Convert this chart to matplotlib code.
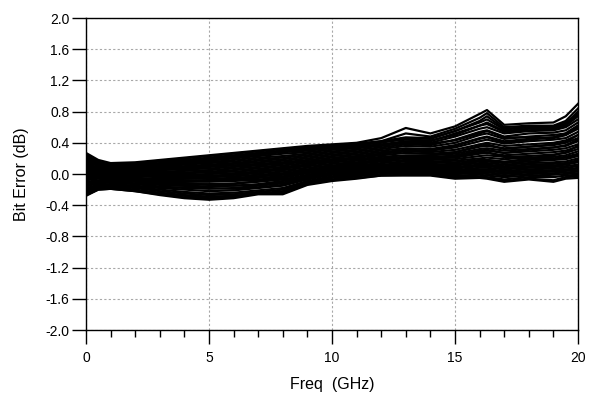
import matplotlib
matplotlib.use("Agg")
import matplotlib.pyplot as plt
from matplotlib.ticker import MultipleLocator

freq = [0, 0.5, 1, 2, 3, 4, 5, 6, 7, 8, 9, 10, 11, 12, 13, 14, 15, 16, 16.3, 17, 18, 19, 19.5, 20]

curves = [
    [0.27, 0.18, 0.14, 0.15, 0.18, 0.21, 0.24, 0.27, 0.30, 0.33, 0.36, 0.38, 0.40, 0.46, 0.59, 0.52, 0.61, 0.77, 0.82, 0.63, 0.65, 0.66, 0.74, 0.90],
    [0.24, 0.16, 0.12, 0.14, 0.17, 0.20, 0.23, 0.26, 0.29, 0.32, 0.34, 0.37, 0.39, 0.42, 0.52, 0.48, 0.58, 0.72, 0.78, 0.60, 0.62, 0.62, 0.68, 0.84],
    [0.22, 0.14, 0.11, 0.13, 0.16, 0.18, 0.21, 0.24, 0.27, 0.30, 0.32, 0.35, 0.37, 0.40, 0.46, 0.45, 0.55, 0.68, 0.74, 0.58, 0.60, 0.60, 0.64, 0.80],
    [0.20, 0.12, 0.10, 0.12, 0.14, 0.17, 0.19, 0.22, 0.25, 0.28, 0.30, 0.33, 0.35, 0.38, 0.42, 0.42, 0.52, 0.62, 0.66, 0.55, 0.58, 0.58, 0.62, 0.74],
    [0.18, 0.11, 0.09, 0.10, 0.12, 0.15, 0.17, 0.20, 0.23, 0.26, 0.28, 0.31, 0.33, 0.36, 0.40, 0.40, 0.48, 0.58, 0.60, 0.52, 0.55, 0.56, 0.60, 0.70],
    [0.16, 0.10, 0.08, 0.09, 0.11, 0.13, 0.15, 0.18, 0.21, 0.23, 0.26, 0.29, 0.31, 0.34, 0.38, 0.37, 0.44, 0.54, 0.56, 0.48, 0.52, 0.53, 0.56, 0.66],
    [0.14, 0.08, 0.07, 0.08, 0.10, 0.12, 0.14, 0.16, 0.19, 0.21, 0.24, 0.27, 0.29, 0.32, 0.36, 0.35, 0.40, 0.50, 0.52, 0.45, 0.48, 0.50, 0.52, 0.62],
    [0.12, 0.07, 0.06, 0.07, 0.08, 0.10, 0.12, 0.14, 0.17, 0.19, 0.22, 0.25, 0.27, 0.30, 0.33, 0.32, 0.37, 0.46, 0.48, 0.42, 0.45, 0.47, 0.50, 0.58],
    [0.10, 0.06, 0.05, 0.06, 0.07, 0.09, 0.11, 0.13, 0.15, 0.17, 0.20, 0.23, 0.25, 0.28, 0.31, 0.30, 0.34, 0.42, 0.44, 0.39, 0.42, 0.44, 0.46, 0.54],
    [0.08, 0.05, 0.04, 0.05, 0.06, 0.07, 0.09, 0.11, 0.13, 0.15, 0.18, 0.21, 0.23, 0.26, 0.29, 0.28, 0.31, 0.38, 0.40, 0.36, 0.38, 0.40, 0.43, 0.50],
    [0.06, 0.04, 0.03, 0.04, 0.05, 0.06, 0.07, 0.09, 0.11, 0.13, 0.16, 0.19, 0.21, 0.24, 0.27, 0.26, 0.28, 0.35, 0.36, 0.33, 0.35, 0.37, 0.40, 0.46],
    [0.05, 0.03, 0.02, 0.02, 0.03, 0.04, 0.05, 0.07, 0.09, 0.11, 0.14, 0.17, 0.19, 0.22, 0.24, 0.24, 0.26, 0.32, 0.33, 0.30, 0.32, 0.34, 0.36, 0.42],
    [0.03, 0.02, 0.01, 0.01, 0.02, 0.02, 0.03, 0.05, 0.07, 0.09, 0.12, 0.15, 0.17, 0.20, 0.22, 0.22, 0.23, 0.29, 0.30, 0.27, 0.29, 0.31, 0.33, 0.38],
    [0.02, 0.01, 0.00, 0.00, 0.00, 0.01, 0.02, 0.03, 0.05, 0.07, 0.10, 0.13, 0.15, 0.18, 0.20, 0.20, 0.21, 0.26, 0.27, 0.24, 0.26, 0.28, 0.30, 0.35],
    [0.00, 0.00, -0.01, -0.01, -0.01, -0.01, 0.00, 0.01, 0.03, 0.05, 0.08, 0.11, 0.13, 0.16, 0.18, 0.18, 0.19, 0.23, 0.24, 0.22, 0.23, 0.25, 0.27, 0.32],
    [-0.02, -0.02, -0.02, -0.02, -0.02, -0.02, -0.02, -0.01, 0.01, 0.03, 0.06, 0.09, 0.11, 0.14, 0.16, 0.16, 0.17, 0.20, 0.21, 0.19, 0.21, 0.22, 0.24, 0.29],
    [-0.04, -0.03, -0.03, -0.03, -0.04, -0.04, -0.04, -0.03, -0.01, 0.01, 0.04, 0.08, 0.10, 0.12, 0.14, 0.14, 0.15, 0.18, 0.18, 0.16, 0.18, 0.20, 0.22, 0.26],
    [-0.06, -0.05, -0.04, -0.05, -0.06, -0.06, -0.06, -0.05, -0.03, -0.01, 0.03, 0.07, 0.09, 0.11, 0.12, 0.12, 0.13, 0.16, 0.16, 0.14, 0.16, 0.18, 0.19, 0.23],
    [-0.08, -0.06, -0.06, -0.07, -0.08, -0.08, -0.08, -0.07, -0.05, -0.03, 0.02, 0.06, 0.08, 0.10, 0.11, 0.10, 0.11, 0.14, 0.14, 0.12, 0.14, 0.15, 0.16, 0.20],
    [-0.10, -0.08, -0.07, -0.08, -0.10, -0.10, -0.10, -0.09, -0.07, -0.05, 0.01, 0.05, 0.07, 0.09, 0.10, 0.09, 0.09, 0.12, 0.12, 0.10, 0.12, 0.13, 0.14, 0.17],
    [-0.12, -0.09, -0.08, -0.10, -0.12, -0.13, -0.13, -0.12, -0.10, -0.07, -0.01, 0.04, 0.06, 0.08, 0.08, 0.07, 0.07, 0.10, 0.10, 0.08, 0.10, 0.11, 0.12, 0.15],
    [-0.14, -0.11, -0.10, -0.12, -0.14, -0.15, -0.16, -0.15, -0.13, -0.09, -0.03, 0.02, 0.05, 0.07, 0.07, 0.06, 0.05, 0.08, 0.08, 0.06, 0.08, 0.09, 0.10, 0.12],
    [-0.16, -0.12, -0.11, -0.13, -0.16, -0.18, -0.19, -0.18, -0.15, -0.12, -0.05, 0.01, 0.04, 0.06, 0.06, 0.05, 0.04, 0.06, 0.06, 0.04, 0.06, 0.07, 0.08, 0.10],
    [-0.18, -0.14, -0.13, -0.15, -0.18, -0.20, -0.22, -0.21, -0.18, -0.15, -0.07, -0.01, 0.02, 0.05, 0.05, 0.04, 0.02, 0.04, 0.04, 0.02, 0.04, 0.05, 0.06, 0.07],
    [-0.20, -0.15, -0.14, -0.17, -0.20, -0.23, -0.25, -0.24, -0.21, -0.18, -0.09, -0.03, 0.01, 0.04, 0.04, 0.03, 0.01, 0.02, 0.02, 0.00, 0.02, 0.03, 0.04, 0.05],
    [-0.22, -0.17, -0.16, -0.18, -0.22, -0.25, -0.27, -0.26, -0.23, -0.20, -0.10, -0.04, 0.00, 0.03, 0.03, 0.02, 0.00, 0.01, 0.00, -0.02, 0.00, 0.01, 0.02, 0.03],
    [-0.24, -0.18, -0.17, -0.20, -0.24, -0.27, -0.29, -0.28, -0.25, -0.22, -0.11, -0.05, -0.02, 0.02, 0.02, 0.01, -0.02, -0.01, -0.02, -0.04, -0.02, -0.01, 0.00, 0.01],
    [-0.26, -0.19, -0.18, -0.21, -0.25, -0.28, -0.31, -0.29, -0.25, -0.24, -0.12, -0.07, -0.03, 0.00, 0.01, 0.00, -0.03, -0.03, -0.04, -0.07, -0.04, -0.04, -0.02, -0.01],
    [-0.28, -0.20, -0.19, -0.22, -0.26, -0.30, -0.32, -0.30, -0.24, -0.25, -0.13, -0.08, -0.05, -0.02, -0.01, -0.01, -0.05, -0.04, -0.05, -0.09, -0.06, -0.08, -0.04, -0.03],
    [-0.27, -0.20, -0.19, -0.22, -0.27, -0.31, -0.33, -0.31, -0.26, -0.26, -0.14, -0.09, -0.06, -0.02, -0.02, -0.02, -0.06, -0.05, -0.06, -0.10, -0.07, -0.10, -0.06, -0.05],
    [0.05, 0.03, 0.02, 0.05, 0.09, 0.13, 0.17, 0.21, 0.25, 0.29, 0.32, 0.35, 0.38, 0.42, 0.47, 0.46, 0.55, 0.66, 0.70, 0.57, 0.60, 0.61, 0.66, 0.78],
    [0.25, 0.15, 0.11, 0.10, 0.09, 0.09, 0.10, 0.11, 0.12, 0.14, 0.16, 0.18, 0.19, 0.20, 0.21, 0.20, 0.22, 0.27, 0.28, 0.22, 0.20, 0.19, 0.21, 0.24],
    [-0.25, -0.17, -0.15, -0.16, -0.17, -0.17, -0.16, -0.13, -0.09, -0.04, 0.03, 0.09, 0.13, 0.17, 0.22, 0.24, 0.28, 0.36, 0.38, 0.32, 0.35, 0.38, 0.41, 0.50],
    [-0.15, -0.10, -0.09, -0.09, -0.08, -0.06, -0.04, -0.01, 0.03, 0.07, 0.12, 0.17, 0.21, 0.26, 0.30, 0.30, 0.36, 0.45, 0.47, 0.40, 0.44, 0.47, 0.52, 0.62],
    [0.12, 0.08, 0.06, 0.03, 0.00, -0.03, -0.06, -0.08, -0.08, -0.07, -0.03, 0.01, 0.03, 0.05, 0.06, 0.05, 0.03, 0.05, 0.05, 0.02, 0.03, 0.04, 0.05, 0.08],
    [-0.05, -0.04, -0.04, -0.07, -0.11, -0.15, -0.18, -0.19, -0.17, -0.14, -0.06, 0.00, 0.04, 0.08, 0.10, 0.11, 0.12, 0.17, 0.18, 0.15, 0.20, 0.24, 0.28, 0.36],
    [0.08, 0.04, 0.03, 0.06, 0.10, 0.14, 0.18, 0.22, 0.26, 0.29, 0.31, 0.33, 0.35, 0.37, 0.40, 0.39, 0.43, 0.52, 0.55, 0.47, 0.47, 0.46, 0.50, 0.60],
    [-0.20, -0.15, -0.13, -0.12, -0.11, -0.10, -0.08, -0.06, -0.03, 0.00, 0.05, 0.10, 0.14, 0.18, 0.21, 0.21, 0.24, 0.30, 0.31, 0.27, 0.31, 0.34, 0.37, 0.44],
    [0.00, -0.02, -0.03, -0.06, -0.09, -0.12, -0.14, -0.15, -0.14, -0.11, -0.04, 0.02, 0.05, 0.08, 0.09, 0.08, 0.08, 0.11, 0.11, 0.08, 0.09, 0.10, 0.13, 0.18],
    [0.20, 0.12, 0.09, 0.11, 0.13, 0.16, 0.19, 0.23, 0.26, 0.30, 0.33, 0.36, 0.38, 0.41, 0.44, 0.43, 0.50, 0.62, 0.64, 0.54, 0.56, 0.58, 0.64, 0.76],
]

x_ticks = [0, 5, 10, 15, 20]
y_ticks = [-2.0, -1.6, -1.2, -0.8, -0.4, 0.0, 0.4, 0.8, 1.2, 1.6, 2.0]

plt.rcParams['font.family'] = ['Liberation Sans', 'DejaVu Sans']

fig = plt.figure(figsize=(5.92, 3.99), dpi=100)
ax = fig.add_axes([86/592, 1 - 330/399, (578-86)/592, (330-18)/399])

for c in curves:
    ax.plot(freq, c, color='black', linewidth=1.6, solid_joinstyle='round')

ax.set_xlim(0, 20)
ax.set_ylim(-2.0, 2.0)
ax.set_xticks(x_ticks)
ax.xaxis.set_minor_locator(MultipleLocator(1))
ax.set_yticks(y_ticks)
ax.set_yticklabels([f"{v:.1f}" for v in y_ticks])

ax.grid(True, which='major', color='#a8a8a8', linestyle=(0, (2, 2)), linewidth=0.8)
ax.tick_params(axis='both', which='major', direction='out', labelsize=10, width=1, color='black')
ax.tick_params(axis='y', which='major', length=10, pad=2)
ax.tick_params(axis='x', which='major', length=10, pad=5)
ax.tick_params(axis='x', which='minor', direction='out', length=5, width=1)

for s in ax.spines.values():
    s.set_linewidth(1)
    s.set_color('black')

ax.set_xlabel("Freq  (GHz)", fontsize=11.5, labelpad=9)
ax.set_ylabel("Bit Error (dB)", fontsize=11.5, labelpad=12)

fig.savefig("out.png", dpi=100)
